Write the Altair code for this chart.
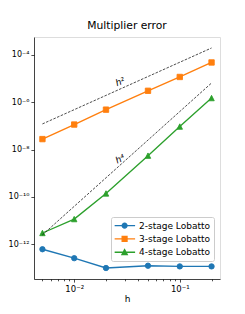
import math
import altair as alt
import pandas as pd

# ---- data ----
h_vals = [0.005, 0.01, 0.02, 0.05, 0.1, 0.2]
err_2stage = [6.2e-13, 2.6e-13, 1.0e-13, 1.25e-13, 1.17e-13, 1.17e-13]
err_3stage = [2.75e-8, 1.13e-7, 4.8e-7, 3.0e-6, 1.15e-5, 4.7e-5]
err_4stage = [3.0e-12, 1.16e-11, 1.4e-10, 5.5e-9, 9.3e-8, 1.48e-6]
series_names = ["2-stage Lobatto", "3-stage Lobatto", "4-stage Lobatto"]
series_colors = ["#1f77b4", "#ff7f0e", "#2ca02c"]

ref_h = [0.005, 0.2]
ref_h2 = [1.2e-7, 1.92e-4]
ref_h4 = [2.5e-12, 6.4e-6]

ann_h = [0.0272, 0.0272]
ann_val = [7.2e-6, 4.0e-9]
ann_text = ["h²", "h⁴"]
ann_angle = [338, 334]

x_domain = [0.00416, 0.2405]
y_domain = [3.44e-14, 5.58e-4]
x_major = [0.01, 0.1]
x_major_labels = ["10⁻²", "10⁻¹"]
x_minor = [0.005, 0.006, 0.007, 0.008, 0.009,
           0.02, 0.03, 0.04, 0.05, 0.06, 0.07, 0.08, 0.09, 0.2]
y_ticks = [1e-12, 1e-10, 1e-8, 1e-6, 1e-4]
y_labels = ["10⁻¹²", "10⁻¹⁰", "10⁻⁸", "10⁻⁶", "10⁻⁴"]

FONT = "DejaVu Sans"

# ---- tables ----
rows = []
for name, vals in zip(series_names, [err_2stage, err_3stage, err_4stage]):
    for h, v in zip(h_vals, vals):
        rows.append({"h": h, "err": v, "series": name})
df = pd.DataFrame(rows)

ref_rows = []
for h, a, b in zip(ref_h, ref_h2, ref_h4):
    ref_rows.append({"h": h, "err": a, "ref": "h2"})
    ref_rows.append({"h": h, "err": b, "ref": "h4"})
ref_df = pd.DataFrame(ref_rows)

ann_df = pd.DataFrame({"h": ann_h, "err": ann_val, "text": ann_text, "angle": ann_angle})


def label_expr(vals, labels):
    parts = []
    for v, lab in zip(vals, labels):
        e = round(math.log10(v))
        parts.append(f"abs(log(datum.value)/LN10 - ({e})) < 0.01 ? '{lab}'")
    return " : ".join(parts) + " : ''"


major_test = "abs(log(datum.value)/LN10 - round(log(datum.value)/LN10)) < 0.001"

x_scale = alt.Scale(type="log", domain=x_domain, nice=False, zero=False)
y_scale = alt.Scale(type="log", domain=y_domain, nice=False, zero=False)

x_axis = alt.Axis(
    values=sorted(x_minor + x_major),
    labelExpr=label_expr(x_major, x_major_labels),
    tickSize={"condition": {"test": major_test, "value": 3.1}, "value": 1.8},
    labelFlush=False, labelOverlap=False,
    grid=False, title="h", titleFont=FONT, titleFontSize=9,
    titleFontWeight="normal", titleColor="black", titlePadding=8.5,
    titleBaseline="alphabetic",
    labelFont=FONT, labelFontSize=8.5, labelColor="black", labelPadding=2.5,
    domainColor="black", domainWidth=0.7, tickColor="black", tickWidth=0.7,
)
y_axis = alt.Axis(
    values=y_ticks,
    labelExpr=label_expr(y_ticks, y_labels),
    tickSize=3.1, grid=False, title=None, labelFlush=False, labelOverlap=False,
    labelFont=FONT, labelFontSize=8, labelColor="black", labelPadding=2,
    labelBaseline="middle",
    domainColor="black", domainWidth=0.7, tickColor="black", tickWidth=0.7,
)

X = alt.X("h:Q", scale=x_scale, axis=x_axis)
Y = alt.Y("err:Q", scale=y_scale, axis=y_axis)
# data-driven domain (sorted names) so it does not merge with the legend scales
color = alt.Color("series:N", scale=alt.Scale(range=series_colors), legend=None)

base = alt.Chart(df)

lines = base.mark_line(strokeWidth=1.35).encode(x=X, y=Y, color=color, detail="series:N")

shapes = ["circle", "square", "M0,-1L-1,1L1,1Z"]
point_layers = []
for name, shp, col in zip(series_names, shapes, series_colors):
    point_layers.append(
        base.transform_filter(alt.datum.series == name)
        .mark_point(shape=shp, size=29, filled=True, opacity=1,
                    stroke=col, strokeWidth=0.9)
        .encode(x=X, y=Y, color=color)
    )

ref_lines = alt.Chart(ref_df).mark_line(
    color="black", strokeWidth=0.7, strokeDash=[2.6, 1.4]
).encode(x=X, y=Y, detail="ref:N")

ann = alt.Chart(ann_df).mark_text(
    font=FONT, fontStyle="italic", fontSize=9, color="black",
    align="center", baseline="middle"
).encode(x=X, y=Y, text="text:N", angle=alt.Angle("angle:Q", scale=None))


# legend symbols: a short line with the marker glyph in the middle
def poly(pts):
    return "M" + "L".join(f"{x:.3f},{y:.3f}" for x, y in pts) + "Z"


r = 0.23
circle_pts = [(r * math.cos(2 * math.pi * k / 16), r * math.sin(2 * math.pi * k / 16)) for k in range(16)]
leg_paths = [
    "M-1,0L1,0" + poly(circle_pts),
    "M-1,0L1,0" + poly([(-r, -r), (r, -r), (r, r), (-r, r)]),
    "M-1,0L1,0" + poly([(0, -0.25), (-0.25, 0.22), (0.25, 0.22)]),
]
leg = alt.Legend(
    title=None, orient="none", legendX=77, legendY=180,
    labelFont=FONT, labelFontSize=9, labelColor="black",
    labelOffset=2.9, symbolOffset=-1.5, clipHeight=10,
    symbolSize=441, symbolStrokeWidth=1.35, rowPadding=3.3, padding=3.6,
    fillColor="rgba(255,255,255,0.8)", strokeColor="#cccccc", cornerRadius=2,
    labelLimit=200,
)
legend_layer = alt.Chart(df).transform_filter("datum.h < 0").mark_point(
    filled=True, opacity=1
).encode(
    shape=alt.Shape("series:N", scale=alt.Scale(domain=series_names, range=leg_paths), legend=leg),
    fill=alt.Fill("series:N", scale=alt.Scale(domain=series_names, range=series_colors), legend=leg),
    stroke=alt.Stroke("series:N", scale=alt.Scale(domain=series_names, range=series_colors), legend=leg),
)

chart = alt.layer(lines, *point_layers, ref_lines, ann, legend_layer).properties(
    width=186, height=242,
    title=alt.TitleParams("Multiplier error", font=FONT, fontSize=10.75,
                          fontWeight="normal", color="black", offset=5, anchor="middle"),
    autosize=alt.AutoSizeParams(type="none"),
    padding={"left": 26, "top": 29, "right": 17, "bottom": 27},
).configure_view(stroke="black", strokeWidth=0.7).configure(background="white")

chart.save("out.html", embed_options={"renderer": "svg", "actions": False})
